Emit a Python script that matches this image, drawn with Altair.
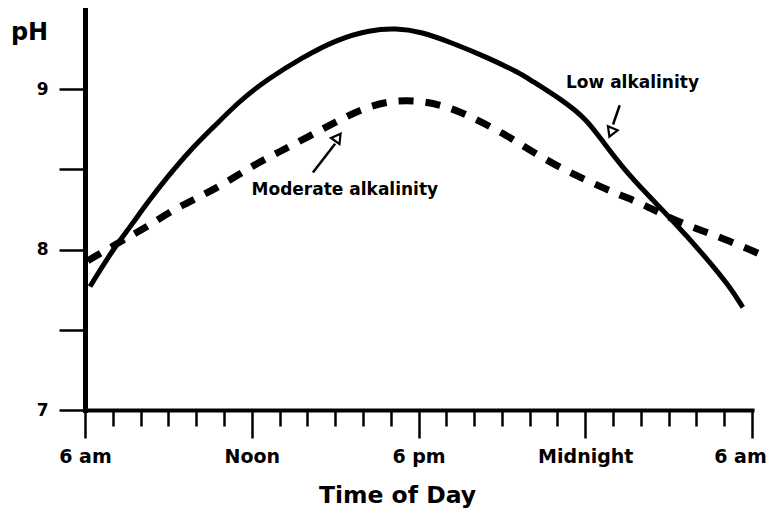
import json
import altair as alt
import pandas as pd

# ---- data ----
solid_hours = [0.18, 1.0, 1.62, 2.23, 2.95, 3.78, 4.6, 5.58, 6.55, 7.84, 9.06, 10.25, 11.2,
               12.05, 13.2, 14.45, 15.65, 16.0, 17.2, 18.06, 18.6, 19.35, 20.2, 21.15,
               22.2, 23.2, 23.67]
solid_ph = [7.77, 8.00, 8.14, 8.29, 8.45, 8.62, 8.76, 8.93, 9.06, 9.20, 9.31, 9.37, 9.38,
            9.36, 9.29, 9.20, 9.10, 9.06, 8.93, 8.81, 8.68, 8.51, 8.35, 8.18,
            7.98, 7.77, 7.64]

dashed_hours = [0.1, 1.37, 2.23, 3.17, 4.14, 5.1, 6.1, 7.0, 7.99, 9.06, 10.0, 11.0, 12.05,
                13.1, 14.1, 15.2, 16.0, 17.2, 18.2, 19.1, 20.0, 21.0, 22.0, 23.1, 24.2, 24.9]
dashed_ph = [7.93, 8.06, 8.14, 8.25, 8.33, 8.42, 8.53, 8.61, 8.70, 8.80, 8.88, 8.93, 8.93,
             8.89, 8.81, 8.71, 8.62, 8.50, 8.42, 8.35, 8.29, 8.20, 8.13, 8.06, 7.98, 7.92]

x_tick_hours = list(range(25))
x_tick_labels = ["6 am", "Noon", "6 pm", "Midnight", "6 am"]
y_tick_values = [7, 7.5, 8, 8.5, 9]

annot_text = ["Low alkalinity", "Moderate alkalinity"]
annot_h = [19.7, 9.35]
annot_ph = [9.04, 8.37]
arrow_h = [19.24, 8.2]
arrow_ph = [8.90, 8.48]
arrow_h2 = [19.0, 9.0]
arrow_ph2 = [8.78, 8.66]
head_h = [18.93, 9.1]
head_ph = [8.73, 8.70]
head_angle = [202, 36]

FONT = "DejaVu Sans"

solid_df = pd.DataFrame({"h": solid_hours, "ph": solid_ph})
dashed_df = pd.DataFrame({"h": dashed_hours, "ph": dashed_ph})
text_df = pd.DataFrame({"h": annot_h, "ph": annot_ph, "label": annot_text})
arrow_df = pd.DataFrame({"h": arrow_h, "ph": arrow_ph, "h2": arrow_h2, "ph2": arrow_ph2})
head_df = pd.DataFrame({"h": head_h, "ph": head_ph, "angle": head_angle})

xscale = alt.Scale(domain=[0, 24], nice=False, zero=False)
yscale = alt.Scale(domain=[7, 9.5], nice=False, zero=False)

x_label_expr = "datum.value % 6 === 0 ? " + json.dumps(x_tick_labels).replace('"', "'") + "[datum.value / 6] : ''"

x_axis = alt.Axis(
    values=x_tick_hours,
    tickCount=30,
    labelExpr=x_label_expr,
    tickSize={"condition": {"test": "datum.value % 6 === 0", "value": 28}, "value": 16},
    tickWidth=2.5,
    domainWidth=4,
    labelFontSize=19,
    labelPadding=9,
    labelOffset={"condition": {"test": "datum.value === 24", "value": -12}, "value": 0},
    labelOverlap=False,
    labelFlush=False,
    grid=False,
    title="Time of Day",
    titleFontSize=23.5,
    titleX=312,
    titleY=85,
    titleBaseline="middle",
    titleAlign="center",
)

y_axis = alt.Axis(
    values=y_tick_values,
    labelExpr="datum.value % 1 === 0 ? format(datum.value, 'd') : ''",
    tickSize=26,
    tickWidth=2.5,
    domainWidth=5,
    labelFontSize=17,
    labelPadding=11,
    labelOverlap=False,
    labelFlush=False,
    grid=False,
    title="pH",
    titleFontSize=24,
    titleAngle=0,
    titleX=-56,
    titleY=23,
    titleAlign="center",
    titleBaseline="middle",
)

solid = alt.Chart(solid_df).mark_line(
    color="black", strokeWidth=5, interpolate="basis", clip=False
).encode(
    x=alt.X("h:Q", scale=xscale, axis=x_axis),
    y=alt.Y("ph:Q", scale=yscale, axis=y_axis),
)

dashed = alt.Chart(dashed_df).mark_line(
    color="black", strokeWidth=7, strokeDash=[15, 12], interpolate="basis", clip=False
).encode(
    x=alt.X("h:Q", scale=xscale),
    y=alt.Y("ph:Q", scale=yscale),
)

arrows = alt.Chart(arrow_df).mark_rule(color="black", strokeWidth=2.5).encode(
    x=alt.X("h:Q", scale=xscale),
    y=alt.Y("ph:Q", scale=yscale),
    x2="h2:Q",
    y2="ph2:Q",
)

heads = alt.Chart(head_df).mark_point(
    shape="triangle-up", filled=True, fill="white", stroke="black",
    strokeWidth=2.2, size=110, opacity=1
).encode(
    x=alt.X("h:Q", scale=xscale),
    y=alt.Y("ph:Q", scale=yscale),
    angle=alt.Angle("angle:Q", scale=None),
)

texts = alt.Chart(text_df).mark_text(
    font=FONT, fontWeight="bold", fontSize=17, color="black", align="center", baseline="middle"
).encode(
    x=alt.X("h:Q", scale=xscale),
    y=alt.Y("ph:Q", scale=yscale),
    text="label:N",
)

chart = alt.layer(solid, dashed, arrows, heads, texts).properties(
    width=667,
    height=401,
    autosize=alt.AutoSizeParams(type="none"),
    padding={"left": 77, "top": 1, "right": 15, "bottom": 100},
    background="white",
).configure_view(
    stroke=None
).configure_axis(
    domainColor="black",
    tickColor="black",
    labelColor="black",
    titleColor="black",
    labelFont=FONT,
    titleFont=FONT,
    labelFontWeight="bold",
    titleFontWeight="bold",
    domainCap="square",
)

chart.save("out.html", embed_options={"renderer": "svg", "actions": False})
